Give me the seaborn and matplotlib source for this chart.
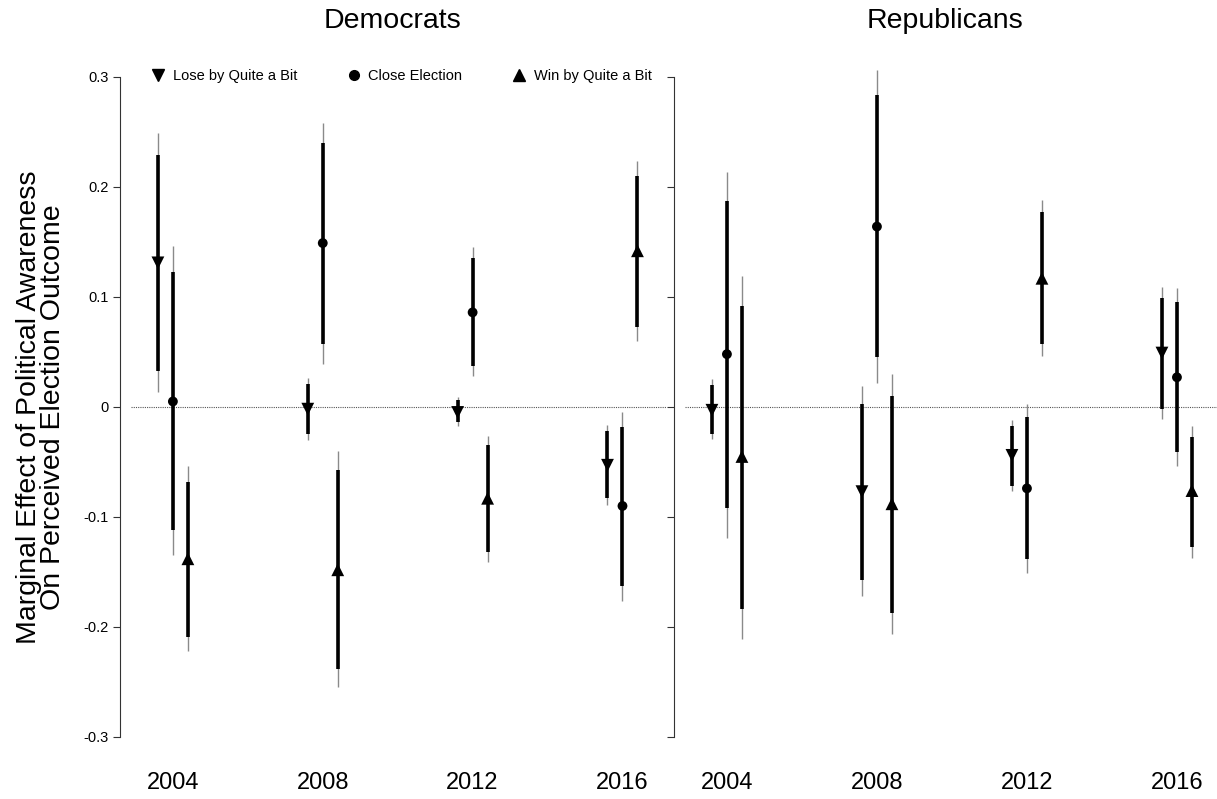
import numpy as np
import pandas as pd
import seaborn as sns
import matplotlib
matplotlib.use('Agg')
import matplotlib.pyplot as plt
from matplotlib.lines import Line2D

years = ['2004', '2008', '2012', '2016']
outcomes = ['Lose by Quite a Bit', 'Close Election', 'Win by Quite a Bit']
parties = ['Democrats', 'Republicans']

# point estimates, inner (thick) and outer (thin) intervals, by year
dem_lose_est = [0.131, -0.002, -0.005, -0.053]
dem_lose_in_lo = [0.033, -0.025, -0.014, -0.083]
dem_lose_in_hi = [0.229, 0.021, 0.006, -0.022]
dem_lose_out_lo = [0.014, -0.030, -0.017, -0.089]
dem_lose_out_hi = [0.249, 0.026, 0.009, -0.016]

dem_close_est = [0.005, 0.149, 0.086, -0.090]
dem_close_in_lo = [-0.112, 0.057, 0.037, -0.163]
dem_close_in_hi = [0.123, 0.240, 0.135, -0.018]
dem_close_out_lo = [-0.135, 0.039, 0.028, -0.176]
dem_close_out_hi = [0.146, 0.258, 0.145, -0.005]

dem_win_est = [-0.138, -0.148, -0.083, 0.142]
dem_win_in_lo = [-0.209, -0.238, -0.132, 0.073]
dem_win_in_hi = [-0.068, -0.057, -0.035, 0.210]
dem_win_out_lo = [-0.222, -0.255, -0.141, 0.060]
dem_win_out_hi = [-0.054, -0.040, -0.026, 0.224]

rep_lose_est = [-0.003, -0.077, -0.044, 0.049]
rep_lose_in_lo = [-0.025, -0.157, -0.072, -0.002]
rep_lose_in_hi = [0.020, 0.003, -0.017, 0.099]
rep_lose_out_lo = [-0.029, -0.172, -0.076, -0.011]
rep_lose_out_hi = [0.025, 0.019, -0.012, 0.109]

rep_close_est = [0.048, 0.164, -0.074, 0.027]
rep_close_in_lo = [-0.092, 0.045, -0.138, -0.041]
rep_close_in_hi = [0.187, 0.284, -0.009, 0.095]
rep_close_out_lo = [-0.119, 0.022, -0.151, -0.054]
rep_close_out_hi = [0.214, 0.306, 0.003, 0.108]

rep_win_est = [-0.045, -0.088, 0.117, -0.076]
rep_win_in_lo = [-0.184, -0.187, 0.057, -0.127]
rep_win_in_hi = [0.092, 0.010, 0.177, -0.027]
rep_win_out_lo = [-0.211, -0.206, 0.046, -0.137]
rep_win_out_hi = [0.119, 0.030, 0.188, -0.017]

y_ticks = [-0.3, -0.2, -0.1, 0, 0.1, 0.2, 0.3]
y_tick_labels = ['-0.3', '-0.2', '-0.1', '0', '0.1', '0.2', '0.3']

series = {
    ('Democrats', 'Lose by Quite a Bit'): (dem_lose_est, dem_lose_in_lo, dem_lose_in_hi, dem_lose_out_lo, dem_lose_out_hi),
    ('Democrats', 'Close Election'): (dem_close_est, dem_close_in_lo, dem_close_in_hi, dem_close_out_lo, dem_close_out_hi),
    ('Democrats', 'Win by Quite a Bit'): (dem_win_est, dem_win_in_lo, dem_win_in_hi, dem_win_out_lo, dem_win_out_hi),
    ('Republicans', 'Lose by Quite a Bit'): (rep_lose_est, rep_lose_in_lo, rep_lose_in_hi, rep_lose_out_lo, rep_lose_out_hi),
    ('Republicans', 'Close Election'): (rep_close_est, rep_close_in_lo, rep_close_in_hi, rep_close_out_lo, rep_close_out_hi),
    ('Republicans', 'Win by Quite a Bit'): (rep_win_est, rep_win_in_lo, rep_win_in_hi, rep_win_out_lo, rep_win_out_hi),
}

offsets = {'Lose by Quite a Bit': -0.1, 'Close Election': 0.0, 'Win by Quite a Bit': 0.1}
rows = []
for (party, outcome), (est, ilo, ihi, olo, ohi) in series.items():
    for i, yr in enumerate(years):
        rows.append(dict(party=party, outcome=outcome, year=yr, pos=i + offsets[outcome],
                         est=est[i], in_lo=ilo[i], in_hi=ihi[i], out_lo=olo[i], out_hi=ohi[i]))
df = pd.DataFrame(rows)

sns.set_style('white')
plt.rcParams['font.family'] = ['Liberation Sans', 'DejaVu Sans']
plt.rcParams['text.color'] = 'black'
plt.rcParams['xtick.color'] = 'black'
plt.rcParams['ytick.color'] = 'black'

fig = plt.figure(figsize=(12.17, 7.99), dpi=100)
ax_l = fig.add_axes([0.0986, 0.0446, 0.4486, 0.8921])
ax_r = fig.add_axes([0.5538, 0.0446, 0.4462, 0.8921])

markers = {'Lose by Quite a Bit': 'v', 'Close Election': 'o', 'Win by Quite a Bit': '^'}
sizes = {'Lose by Quite a Bit': 85, 'Close Election': 50, 'Win by Quite a Bit': 85}

for ax, party, xmax in [(ax_l, 'Democrats', 3.29), (ax_r, 'Republicans', 3.267)]:
    d = df[df.party == party]
    ax.hlines(0, -0.28, xmax, colors='#555555', linestyles=(0, (1, 1)), lw=0.8)
    ax.vlines(d.pos, d.out_lo, d.out_hi, colors='#8a8a8a', lw=1.0)
    ax.vlines(d.pos, d.in_lo, d.in_hi, colors='black', lw=2.6)
    sns.scatterplot(data=d, x='pos', y='est', style='outcome', markers=markers,
                    size='outcome', sizes=sizes, color='black', edgecolor='black',
                    linewidth=0, ax=ax, legend=False, zorder=3)
    ax.set_xlim(-0.353, xmax)
    ax.set_ylim(-0.324, 0.324)
    ax.set_xticks(range(len(years)))
    ax.set_xticklabels(years, fontsize=17)
    ax.tick_params(axis='x', length=0, pad=6)
    ax.set_yticks(y_ticks)
    ax.tick_params(axis='y', direction='out', length=5, width=0.8, color='#333333',
                   labelsize=10.5, pad=3, left=True)
    for s in ['top', 'right', 'bottom']:
        ax.spines[s].set_visible(False)
    ax.spines['left'].set_bounds(-0.3, 0.3)
    ax.spines['left'].set_color('#333333')
    ax.spines['left'].set_linewidth(0.8)
    ax.set_xlabel('')
    ax.set_ylabel('')
    ax.set_title(party, fontsize=20.5, pad=16, color='black')

ax_l.set_yticklabels(y_tick_labels)
ax_r.set_yticklabels([])

ax_l.set_ylabel('Marginal Effect of Political Awareness\nOn Perceived Election Outcome',
                fontsize=20.5, linespacing=0.92, color='black')
ax_l.yaxis.set_label_coords(-0.099, 0.5)

handles = [Line2D([], [], marker=markers[o], color='black', ls='none',
                  markersize=7 if o == 'Close Election' else 8.5) for o in outcomes]
ax_l.legend(handles, outcomes, ncol=3, frameon=False, loc='center',
            bbox_to_anchor=(0.515, 0.964), fontsize=10.5, handlelength=1.0,
            handletextpad=0.5, columnspacing=3.4)

fig.savefig('out.png', dpi=100)
